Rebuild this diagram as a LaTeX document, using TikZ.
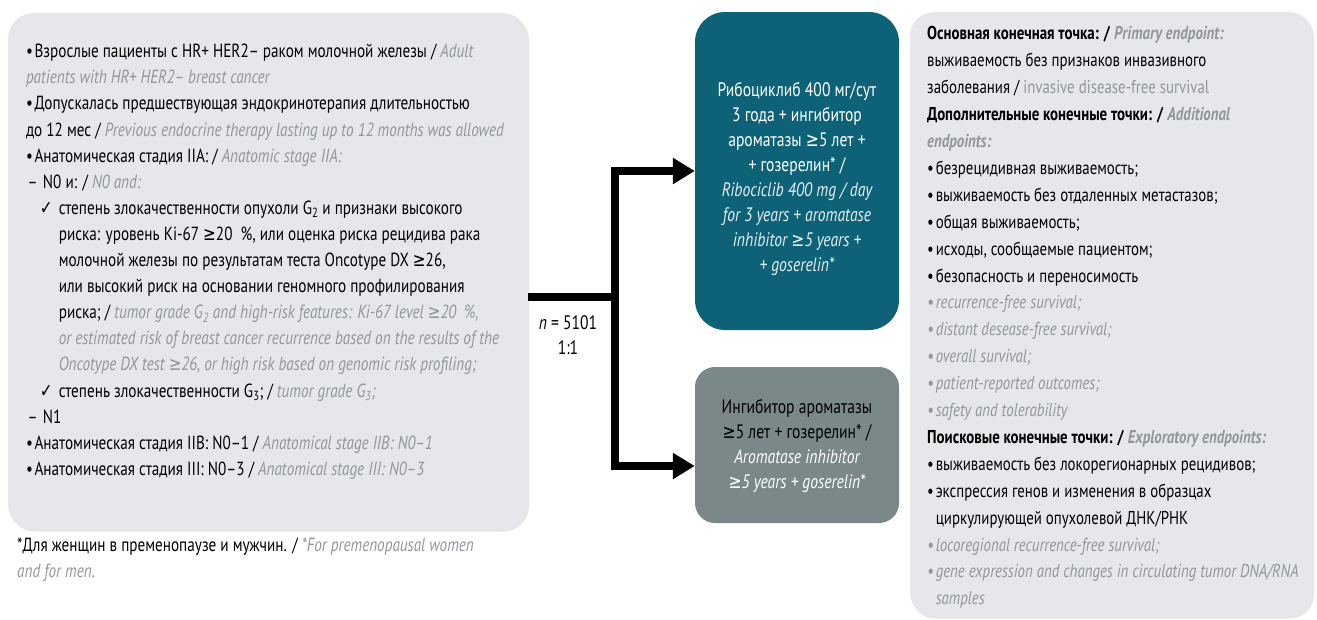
\documentclass[tikz,border=0pt]{standalone}
\usepackage{fontspec}
\setmainfont{PT Sans}[FakeStretch=0.80]
\newfontfamily\symfont{DejaVu Sans}[FakeStretch=0.80]
\usetikzlibrary{arrows.meta,shadows}
\definecolor{boxgrey}{RGB}{229,231,235}
\definecolor{tealarm}{RGB}{14,98,120}
\definecolor{greyarm}{RGB}{122,136,138}
\definecolor{engrey}{RGB}{146,150,155}
\newcommand\en[1]{{\color{engrey}\itshape #1}}
\newcommand\bl{\makebox[8.6pt][l]{•}}
\newcommand\ck{\makebox[19pt][l]{\symfont ✓}}
\newcommand\gesym{{\symfont ≥}}
\lineskiplimit=-100pt
\begin{document}
\begin{tikzpicture}[x=1pt,y=-1pt,
  panel/.style={fill=boxgrey, draw=none, rounded corners=26pt, inner sep=0pt,
     drop shadow={shadow xshift=1pt, shadow yshift=-1.5pt, opacity=0.10, fill=black}},
  armbox/.style={draw=none, inner sep=0pt, minimum width=204pt},
  txt/.style={inner sep=0pt, align=left, font=\fontsize{19}{26.1}\selectfont},
  ctxt/.style={inner sep=0pt, align=center, font=\fontsize{19.5}{25}\selectfont},
  conn/.style={line width=8pt, black, line join=miter}
]
\useasboundingbox (0,0) rectangle (1317,619);

% panels
\node[panel, minimum width=520pt, minimum height=517pt] (leftbox) at (268,271.5) {};
\node[panel, rounded corners=24pt, minimum width=403pt, minimum height=605pt] (rightbox) at (1111.5,314.5) {};
\node[armbox, fill=tealarm, rounded corners=30pt, minimum height=318pt] (teal) at (797,171) {};
\node[armbox, fill=greyarm, rounded corners=20pt, minimum height=156pt] (grey) at (797,445) {};

% left text
\node[txt, anchor=north west] (lefttext) at (25.8,44) {%
\bl Взрослые пациенты с HR+ HER2– раком молочной железы / \en{Adult}\\
\en{patients with HR+ HER2– breast cancer}\\
\bl Допускалась предшествующая эндокринотерапия длительностью\\
до 12 мес / \en{Previous endocrine therapy lasting up to 12 months was allowed}\\
\bl Анатомическая стадия IIA: / \en{Anatomic stage IIA:}\\
\hspace*{1.5pt}\makebox[15.5pt][l]{–}N0 и: / \en{N0 and:}\\
\hspace*{13.8pt}\ck степень злокачественности опухоли G\textsubscript{2} и признаки высокого\\
\hspace*{32.8pt}риска: уровень Ki-67 \gesym20~~\%, или оценка риска рецидива рака\\
\hspace*{32.8pt}молочной железы по результатам теста Oncotype DX \gesym26,\\
\hspace*{32.8pt}или высокий риск на основании геномного профилирования\\
\hspace*{32.8pt}риска; / \en{tumor grade G\textsubscript{2} and high-risk features: Ki-67 level \gesym20~~\%,}\\
\hspace*{32.8pt}\en{or estimated risk of breast cancer recurrence based on the results of the}\\
\hspace*{32.8pt}\en{Oncotype DX test \gesym26, or high risk based on genomic risk profiling;}\\
\hspace*{13.8pt}\ck степень злокачественности G\textsubscript{3}; / \en{tumor grade G\textsubscript{3};}\\
\hspace*{1.5pt}\makebox[15.5pt][l]{–}N1\\
\bl Анатомическая стадия IIB: N0–1 / \en{Anatomical stage IIB: N0–1}\\
\bl Анатомическая стадия III: N0–3 / \en{Anatomical stage III: N0–3}};

% footnote
\node[txt, anchor=north west] (foot) at (17,538) {%
*Для женщин в пременопаузе и мужчин. / \en{*For premenopausal women}\\
\en{and for men.}};

% arm texts
\node[ctxt, text=white] (tealtext) at (797,179) {%
Рибоциклиб 400 мг/сут\\
3 года + ингибитор\\
ароматазы \gesym5 лет +\\
+ гозерелин* /\\
{\itshape\color{white!90!tealarm}Ribociclib 400 mg / day}\\
{\itshape\color{white!90!tealarm}for 3 years + aromatase}\\
{\itshape\color{white!90!tealarm}inhibitor \gesym5 years +}\\
{\itshape\color{white!90!tealarm}+ goserelin*}};

\node[ctxt, text=black] (greytext) at (797,446) {%
Ингибитор ароматазы\\
\gesym5 лет + гозерелин* /\\
{\itshape\color{white}Aromatase inhibitor}\\
{\itshape\color{white}\gesym5 years + goserelin*}};

% randomisation label
\node[ctxt] (nlab) at (568,335) {\textit{n} = 5101\\1:1};

% connectors
\coordinate (split) at (615,297);
\coordinate (teal in) at (teal.west);
\coordinate (grey in) at (grey.west |- 0,466);
\draw[conn] (leftbox.east |- split) -- (split);
\draw[conn, {Triangle[length=22pt,width=25pt]}-{Triangle[length=22pt,width=25pt]}] (teal in) -| (split) |- (grey in);

% right text
\node[txt, anchor=north west, font=\fontsize{18.6}{26.9}\selectfont] (righttext) at (927,26.5) {%
\textbf{Основная конечная точка: /} \en{\bfseries Primary endpoint:}\\
выживаемость без признаков инвазивного\\
заболевания / {\color{engrey}invasive disease-free survival}\\
\textbf{Дополнительные конечные точки: /} \en{\bfseries Additional}\\
\en{\bfseries endpoints:}\\
\bl безрецидивная выживаемость;\\
\bl выживаемость без отдаленных метастазов;\\
\bl общая выживаемость;\\
\bl исходы, сообщаемые пациентом;\\
\bl безопасность и переносимость\\
\en{\bl recurrence-free survival;}\\
\en{\bl distant desease-free survival;}\\
\en{\bl overall survival;}\\
\en{\bl patient-reported outcomes;}\\
\en{\bl safety and tolerability}\\
\textbf{Поисковые конечные точки: /} \en{\bfseries Exploratory endpoints:}\\
\bl выживаемость без локорегионарных рецидивов;\\
\bl экспрессия генов и изменения в образцах\\
\hspace*{8.6pt}циркулирующей опухолевой ДНК/РНК\\
\en{\bl locoregional recurrence-free survival;}\\
\en{\bl gene expression and changes in circulating tumor DNA/RNA}\\
\en{\hspace*{8.6pt}samples}};
\end{tikzpicture}
\end{document}
